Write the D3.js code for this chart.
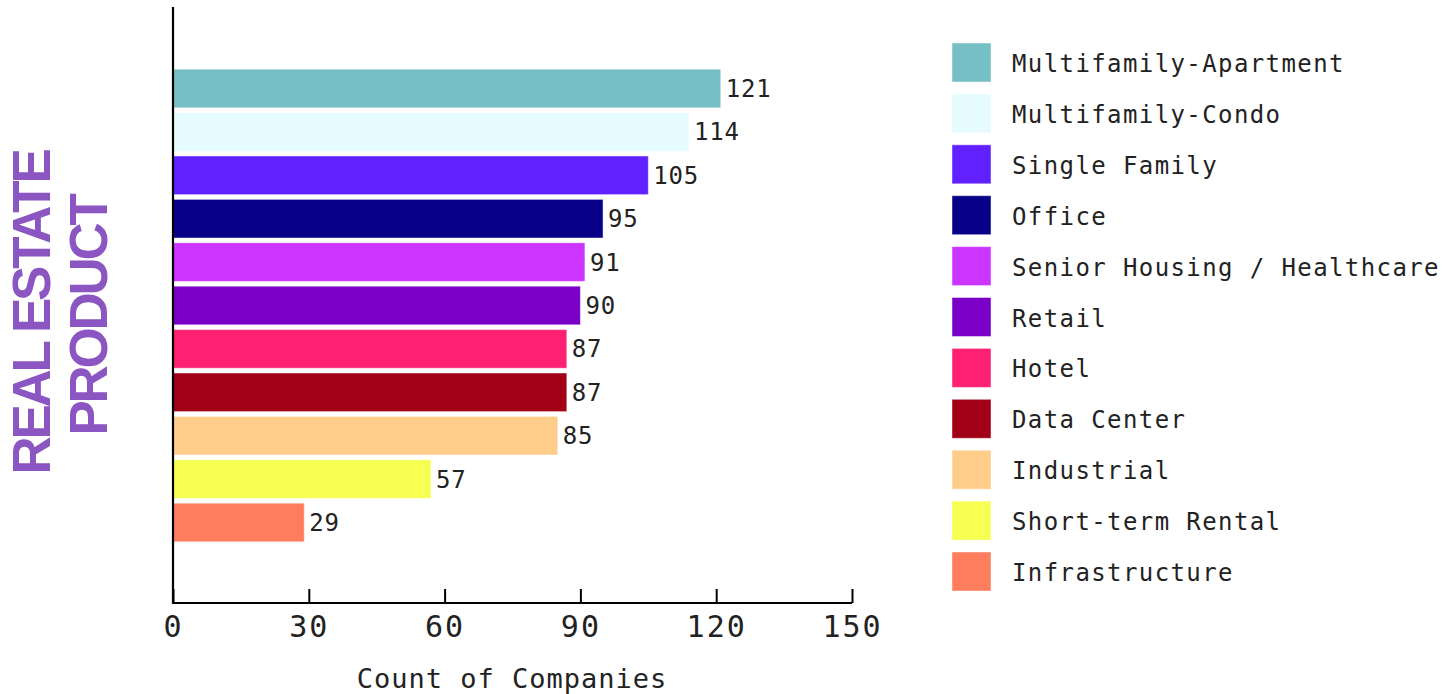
<!DOCTYPE html>
<html>
<head>
<meta charset="utf-8">
<script src="https://cdn.jsdelivr.net/npm/d3@7"></script>
<style>
  html, body { margin: 0; padding: 0; background: #fff; }
  svg { display: block; }
</style>
</head>
<body>
<svg id="chart" width="1455" height="694"></svg>
<script>
const categories = ["Multifamily-Apartment","Multifamily-Condo","Single Family","Office","Senior Housing / Healthcare","Retail","Hotel","Data Center","Industrial","Short-term Rental","Infrastructure"];
const values = [121,114,105,95,91,90,87,87,85,57,29];
const colors = ["#76bfc4","#e6fbfe","#6020ff","#090088","#cc35ff","#7a00c8","#ff2171","#a10016","#ffcd8a","#f6ff52","#ff7d5f"];
const xTicks = [0,30,60,90,120,150];
const xTitle = "Count of Companies";
const yTitleLines = ["REAL ESTATE","PRODUCT"];

const svg = d3.select("#chart");
const mono = "'DejaVu Sans Mono', monospace";
const textColor = "#222";

const x = d3.scaleLinear().domain([0,150]).range([173,852]);
const y = d3.scaleBand().domain(categories).range([8,603]).paddingInner(0.11).paddingOuter(1.41);
const color = d3.scaleOrdinal().domain(categories).range(colors);

// bars
svg.append("g").selectAll("rect").data(categories).join("rect")
  .attr("x", x(0))
  .attr("y", d => y(d))
  .attr("width", (d,i) => x(values[i]) - x(0))
  .attr("height", y.bandwidth())
  .attr("fill", d => color(d))
  .attr("stroke", "#ffffff").attr("stroke-opacity", 0.45).attr("stroke-width", 1);

// value labels
svg.append("g").selectAll("text").data(categories).join("text")
  .attr("x", (d,i) => x(values[i]) + 5)
  .attr("y", d => y(d) + y.bandwidth()/2 + 8.5)
  .attr("font-family", mono).attr("font-size", 24).attr("letter-spacing", 0.8)
  .attr("fill", textColor)
  .text((d,i) => values[i]);

// x axis
const xAxis = d3.axisBottom(x).tickValues(xTicks).tickSize(0).tickPadding(0).tickFormat(d3.format("d"));
const gx = svg.append("g").attr("transform", "translate(0,603)").call(xAxis);
gx.select(".domain").attr("stroke", "#000").attr("stroke-width", 2.2).attr("d", `M${x(0)},0H${x(150)}`);
gx.selectAll(".tick line").attr("y1", 0).attr("y2", -14).attr("stroke", "#000").attr("stroke-width", 2);
gx.selectAll(".tick text").attr("font-family", mono).attr("font-size", 30).attr("letter-spacing", 2)
  .attr("fill", textColor).attr("dy", null).attr("y", 34);

// y axis line
svg.append("line").attr("x1", x(0)).attr("x2", x(0)).attr("y1", 7).attr("y2", 604)
  .attr("stroke", "#000").attr("stroke-width", 2.2);

// x title
svg.append("text").attr("x", 512).attr("y", 688).attr("text-anchor", "middle")
  .attr("font-family", mono).attr("font-size", 27).attr("letter-spacing", 1)
  .attr("fill", textColor).text(xTitle);

// y title
const ytx = [50, 107];
const yty = [313, 316];
yTitleLines.forEach((t,i) => {
  svg.append("text")
    .attr("transform", `translate(${ytx[i]},${yty[i]}) rotate(-90)`)
    .attr("text-anchor", "middle")
    .attr("font-family", "'Liberation Sans', Arial, sans-serif")
    .attr("font-weight", "bold").attr("font-size", 53).attr("letter-spacing", -3.3)
    .attr("fill", "#8b56c2").text(t);
});

// legend
const lg = svg.append("g").selectAll("g").data(categories).join("g")
  .attr("transform", (d,i) => `translate(952,${43 + i*50.9})`);
lg.append("rect").attr("width", 39).attr("height", 39).attr("fill", d => color(d))
  .attr("stroke", "#ffffff").attr("stroke-opacity", 0.45).attr("stroke-width", 1);
lg.append("text").attr("x", 60).attr("y", 29)
  .attr("font-family", mono).attr("font-size", 24).attr("letter-spacing", 1.4)
  .attr("fill", textColor).text(d => d);
</script>
</body>
</html>
